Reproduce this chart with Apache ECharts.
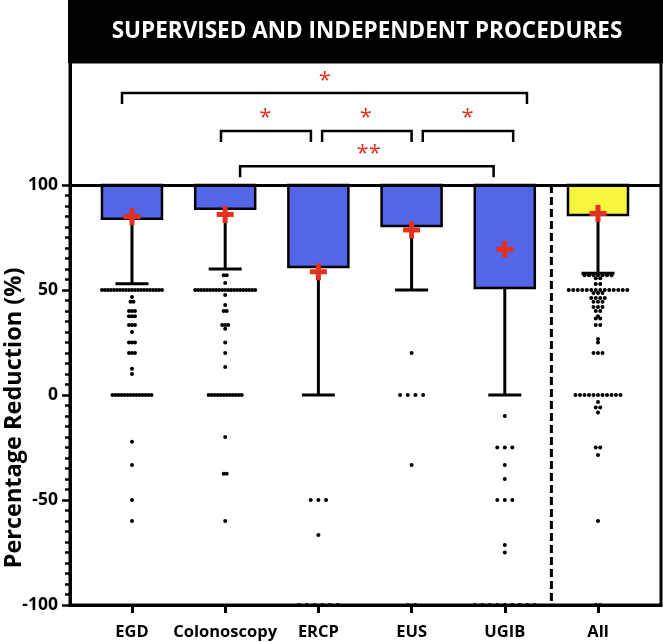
<!DOCTYPE html>
<html><head><meta charset="utf-8">
<script src="https://cdn.jsdelivr.net/npm/echarts@6/dist/echarts.min.js"></script>
<style>html,body{margin:0;padding:0;background:#fff;}#c{width:663px;height:642px;}</style>
</head><body><div id="c"></div>
<script>
// ---------- data ----------
const categories = ['EGD', 'Colonoscopy', 'ERCP', 'EUS', 'UGIB', 'All'];
const boxLow = [84, 88.7, 61, 80.5, 51, 85.7];      // bottom of the bar (top is 100)
const whiskerLow = [53, 60, 0, 50, 0, 58];          // lower whisker end
const means = [84.9, 86, 58.7, 78.6, 69.4, 86.5];   // red "+" marker
const yTicks = [-100, -50, 0, 50, 100];

const dotsEGD = [50,50,50,50,50,50,50,50,50,50,50,50,50,50,50,50,50,50,50,50,50,
  46.7, 44.4,44.4, 40,40,40, 37.5,37.5,37.5, 33.3,33.3,33.3, 30, 25,25,25, 20,20,20,
  12.5, 10, 0,0,0,0,0,0,0,0,0,0,0,0,0,0, -22.2, -33.3, -50, -60];
const dotsColonoscopy = [57.1,57.1, 53.3, 50,50,50,50,50,50,50,50,50,50,50,50,50,50,50,50,50,50,50,50,50,
  47.6, 42.9, 40,40, 33.3,33.3,33.3, 31.6, 25, 20, 13.3, 0,0,0,0,0,0,0,0,0,0,0,0,
  -20, -37.5,-37.5, -60];
const dotsERCP = [-50,-50,-50, -66.7, -100,-100,-100,-100,-100,-100];
const dotsEUS = [20, 0,0,0,0, -33.3, -100,-100];
const dotsUGIB = [-10, -25,-25,-25, -33.3, -40, -50,-50,-50, -71.4, -75,
  -100,-100,-100,-100,-100,-100,-100,-100,-100];
const dotsAll = [57.1,57.1,57.1,57.1,57.1,57.1,57.1, 55.6,55.6, 52.9,52.9,
  50,50,50,50,50,50,50,50,50,50,50,50,50,50, 48.6,48.6,48.6, 46.2,46.2,46.2,46.2,
  44.4,44.4,44.4, 41.9,41.9,41.9, 40,40, 37.5, 36.4,36.4, 33.3,33.3, 26.7, 25, 20,20,20,
  0,0,0,0,0,0,0,0,0,0,0, -3.3, -5.9,-5.9, -8.3, -25,-25, -28.6, -60, -100,-100];
const dotSets = [dotsEGD, dotsColonoscopy, dotsERCP, dotsEUS, dotsUGIB, dotsAll];

// significance annotations (data coordinates)
const bracketX1 = [0.893, 1.955, 3.04, 4.12, 2.16];
const bracketX2 = [5.238, 2.92, 4.0, 5.09, 4.88];
const bracketY = [143.8, 125.7, 125.7, 125.7, 109];
const starX = [3.07, 2.43, 3.51, 4.6, 3.54];
const starY = [151.9, 134.3, 134.3, 134.3, 117.1];
const starText = ['*', '*', '*', '*', '**'];

// ---------- styles ----------
const barColors = ['#5466E8', '#5466E8', '#5466E8', '#5466E8', '#5466E8', '#F6F63C'];
const dotSpacingPx = [3, 3, 7.7, 7.7, 7.5, 4.5];
const FONT = '"Open Sans", Lato, sans-serif';
const RED = '#E3301F';

// ---------- build series data ----------
const boxData = categories.map((c, i) => [i + 1, boxLow[i], whiskerLow[i], i]);
const meanData = categories.map((c, i) => [i + 1, means[i]]);
const dotData = [];
dotSets.forEach((arr, ci) => {
  const groups = {};
  arr.forEach(v => { (groups[v] = groups[v] || []).push(v); });
  Object.keys(groups).forEach(k => {
    const n = groups[k].length;
    for (let j = 0; j < n; j++) dotData.push([ci + 1, Number(k), j - (n - 1) / 2, ci]);
  });
});
const bracketData = bracketX1.map((x, i) => [x, bracketX2[i], bracketY[i]]);
const starData = starX.map((x, i) => [x, starY[i], i]);

const xMin = 0.335, xMax = 6.676, yMin = -100, yMax = 158.6;
const minorTicks = [];
for (let v = -100; v <= 100; v += 5) minorTicks.push(v);

const chart = echarts.init(document.getElementById('c'), null, {renderer: 'canvas'});
chart.setOption({
  animation: false,
  backgroundColor: '#fff',
  grid: {left: 70, right: 2, top: 62, bottom: 37, show: true, borderColor: '#000', borderWidth: 3, backgroundColor: '#fff'},
  xAxis: {
    type: 'value', min: xMin, max: xMax,
    axisLine: {show: true, onZero: false, lineStyle: {color: '#000', width: 3}},
    axisTick: {show: true, customValues: [1, 2, 3, 4, 5, 6], length: 8, lineStyle: {color: '#000', width: 3}},
    axisLabel: {show: true, customValues: [1, 2, 3, 4, 5, 6], formatter: v => categories[Math.round(v) - 1],
      color: '#000', fontFamily: FONT, fontWeight: 'bold', fontSize: 16.5, margin: 19},
    splitLine: {show: false}
  },
  yAxis: [{
    type: 'value', min: yMin, max: yMax, position: 'left',
    axisLine: {show: true, lineStyle: {color: '#000', width: 3}},
    axisTick: {show: true, customValues: yTicks, length: 8, lineStyle: {color: '#000', width: 2.5}},
    axisLabel: {show: true, customValues: yTicks, color: '#000', fontFamily: FONT, fontWeight: 'bold', fontSize: 17.5, margin: 12},
    splitLine: {show: false}
  }, {
    type: 'value', min: yMin, max: yMax, position: 'left', offset: 0,
    axisLine: {show: false},
    axisTick: {show: true, customValues: minorTicks, length: 5, lineStyle: {color: '#000', width: 2.5}},
    axisLabel: {show: false},
    splitLine: {show: false}
  }],
  graphic: [
    {type: 'rect', shape: {x: 68, y: 0, width: 595, height: 63}, style: {fill: '#000'}, z: 10},
    {type: 'text', x: 367, y: 32, z: 11, style: {text: 'SUPERVISED AND INDEPENDENT PROCEDURES', fill: '#fff',
      font: 'bold 22.5px ' + FONT, textAlign: 'center', textVerticalAlign: 'middle'}},
    {type: 'text', x: 14, y: 418, rotation: Math.PI / 2, z: 11, style: {text: 'Percentage Reduction (%)', fill: '#000',
      font: 'bold 23.5px ' + FONT, textAlign: 'center', textVerticalAlign: 'middle'}}
  ],
  series: [
    { // bars + whiskers
      type: 'custom', z: 2, data: boxData, clip: false,
      renderItem: function (params, api) {
        const x = api.value(0), low = api.value(1), wl = api.value(2), ci = api.value(3);
        const top = api.coord([x, 100]), bot = api.coord([x, low]), we = api.coord([x, wl]);
        const halfW = api.size([0.322, 0])[0], capHalf = api.size([0.177, 0])[0];
        return {type: 'group', children: [
          {type: 'line', shape: {x1: top[0], y1: bot[1], x2: top[0], y2: we[1]}, style: {stroke: '#000', lineWidth: 3}},
          {type: 'line', shape: {x1: top[0] - capHalf, y1: we[1], x2: top[0] + capHalf, y2: we[1]}, style: {stroke: '#000', lineWidth: 3}},
          {type: 'rect', shape: {x: top[0] - halfW, y: top[1], width: 2 * halfW, height: bot[1] - top[1]},
            style: {fill: barColors[ci], stroke: '#000', lineWidth: 2.5}}
        ]};
      }
    },
    { // individual points (swarm)
      type: 'custom', z: 3, data: dotData, clip: false,
      renderItem: function (params, api) {
        const p = api.coord([api.value(0), api.value(1)]);
        const ci = api.value(3);
        return {type: 'circle', shape: {cx: p[0] + api.value(2) * dotSpacingPx[ci], cy: p[1], r: 2}, style: {fill: '#000'}};
      }
    },
    { // reference line at 100
      type: 'line', z: 4, data: [], markLine: {silent: true, symbol: 'none', label: {show: false},
        lineStyle: {color: '#000', width: 3, type: 'solid'}, data: [{yAxis: 100}]}
    },
    { // dashed separator
      type: 'line', z: 4, data: [[5.5, 100], [5.5, -100]], symbol: 'none',
      lineStyle: {color: '#000', width: 3, type: [8, 4]}
    },
    { // mean markers
      type: 'custom', z: 5, data: meanData, clip: false,
      renderItem: function (params, api) {
        const p = api.coord([api.value(0), api.value(1)]);
        const h = 8.5;
        return {type: 'group', children: [
          {type: 'line', shape: {x1: p[0] - h, y1: p[1], x2: p[0] + h, y2: p[1]}, style: {stroke: RED, lineWidth: 5}},
          {type: 'line', shape: {x1: p[0], y1: p[1] - h, x2: p[0], y2: p[1] + h}, style: {stroke: RED, lineWidth: 5}}
        ]};
      }
    },
    { // significance brackets
      type: 'custom', z: 5, data: bracketData, clip: false,
      renderItem: function (params, api) {
        const a = api.coord([api.value(0), api.value(2)]);
        const b = api.coord([api.value(1), api.value(2)]);
        const leg = 11;
        return {type: 'polyline', shape: {points: [[a[0], a[1] + leg], a, b, [b[0], b[1] + leg]]},
          style: {stroke: '#000', lineWidth: 2.5, fill: null}};
      }
    },
    { // significance stars
      type: 'custom', z: 5, data: starData, clip: false,
      renderItem: function (params, api) {
        const p = api.coord([api.value(0), api.value(1)]);
        return {type: 'text', x: p[0], y: p[1] + 5, style: {text: starText[api.value(2)], fill: RED,
          font: '22px ' + FONT, textAlign: 'center', textVerticalAlign: 'middle'}};
      }
    }
  ]
});
</script></body></html>
